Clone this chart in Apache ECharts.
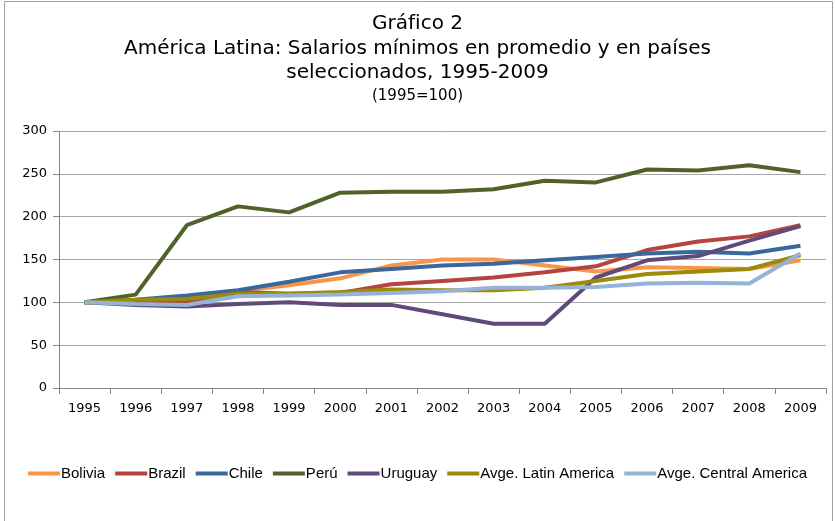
<!DOCTYPE html>
<html lang="es">
<head>
<meta charset="UTF-8">
<title>Gráfico 2</title>
<script src="https://cdn.jsdelivr.net/npm/echarts@6/dist/echarts.min.js"></script>
<style>
  * { margin: 0; padding: 0 }
  html, body { width: 100%; height: 100%; background: #fff }
  #main { width: 835px; height: 521px }
</style>
</head>
<body>
<div id="main"></div>
<script>
  var years = ['1995','1996','1997','1998','1999','2000','2001','2002','2003','2004','2005','2006','2007','2008','2009'];
  var names = ['Bolivia','Brazil','Chile','Perú','Uruguay','Avge. Latin America','Avge. Central America'];
  var colors = ['#F79646','#B5433F','#3A679C','#4F6228','#604A7B','#9C8A0A','#95B3D7'];

  var bolivia  = [100,101,103,113,120,128,143,150,150,143,136,141,140,139,149];
  var brazil   = [100, 99,101,112,110,111,121,125,129,135,142,161,171,177,190];
  var chile    = [100,103,108,114,124,135,139,143,145,149,153,157,159,157,166];
  var peru     = [100,109,190,212,205,228,229,229,232,242,240,255,254,260,252];
  var uruguay  = [100, 97, 95, 98,100, 97, 97, 86, 75, 75,129,149,154,172,189];
  var avgLatin = [100,103,104,110,110,112,115,114,114,117,125,133,136,139,155];
  var avgCentr = [100, 98, 97,107,108,109,111,113,117,117,118,122,123,122,157];
  var seriesData = [bolivia, brazil, chile, peru, uruguay, avgLatin, avgCentr];

  var myChart = echarts.init(document.getElementById('main'));
  var option = {
    animation: false,
    color: colors,
    title: {
      text: 'Gráfico 2\nAmérica Latina: Salarios mínimos en promedio y en países\nseleccionados, 1995-2009',
      subtext: '(1995=100)',
      left: 'center',
      top: 7,
      itemGap: 3,
      textStyle: { fontFamily: 'DejaVu Sans', fontSize: 20, fontWeight: 'normal', color: '#000', lineHeight: 24.5 },
      subtextStyle: { fontFamily: 'DejaVu Sans', fontSize: 15, color: '#000' }
    },
    grid: { left: 59, right: 9, top: 131, bottom: 133 },
    legend: {
      bottom: 35,
      left: 'center',
      itemWidth: 32,
      itemHeight: 4,
      itemGap: 10,
      icon: 'rect',
      textStyle: { fontFamily: 'Liberation Sans Narrow, Liberation Sans', fontSize: 15, color: '#000', padding: [0, 0, 0, -4] },
      data: names
    },
    xAxis: {
      type: 'category',
      data: years,
      boundaryGap: true,
      axisLine: { lineStyle: { color: '#868686' } },
      axisTick: { show: true, length: 6, lineStyle: { color: '#868686' } },
      axisLabel: { color: '#000', fontFamily: 'DejaVu Sans', fontSize: 13, margin: 14 }
    },
    yAxis: {
      type: 'value',
      min: 0,
      max: 300,
      interval: 50,
      axisLine: { show: true, lineStyle: { color: '#868686' } },
      axisTick: { show: true, length: 6, lineStyle: { color: '#868686' } },
      axisLabel: { color: '#000', fontFamily: 'DejaVu Sans', fontSize: 13, margin: 12 },
      splitLine: { lineStyle: { color: '#a6a6a6' } }
    },
    graphic: [{
      type: 'rect',
      shape: { x: 4.5, y: 1.5, width: 828, height: 530 },
      style: { fill: 'none', stroke: '#a0a0a0', lineWidth: 1 },
      silent: true
    }],
    series: names.map(function (n, i) {
      return {
        name: n,
        type: 'line',
        data: seriesData[i],
        symbol: 'none',
        lineStyle: { width: 4, color: colors[i] }
      };
    })
  };
  myChart.setOption(option);
</script>
</body>
</html>
